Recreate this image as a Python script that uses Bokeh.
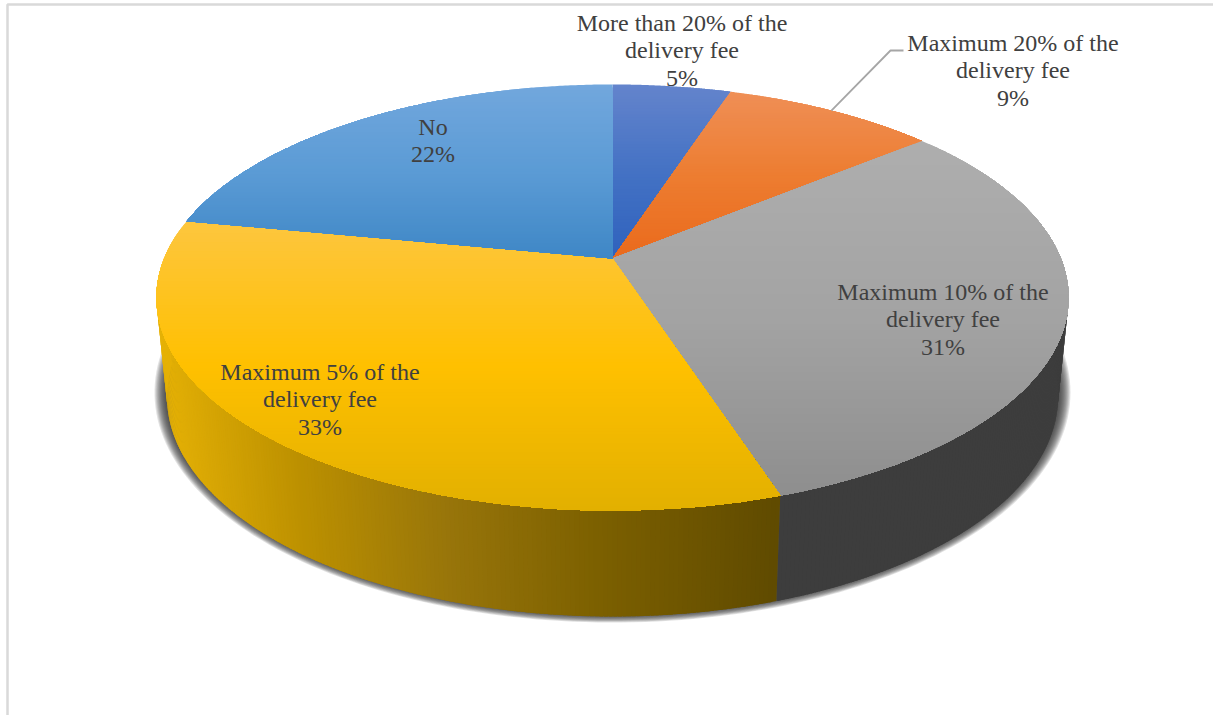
import numpy as np
from bokeh.core.properties import value
from bokeh.embed import file_html
from bokeh.models import ColumnDataSource
from bokeh.plotting import figure
from bokeh.resources import INLINE

# Share of answers, clockwise from twelve o'clock
categories = [
    ["More than 20% of the", "delivery fee"],
    ["Maximum 20% of the", "delivery fee"],
    ["Maximum 10% of the", "delivery fee"],
    ["Maximum 5% of the", "delivery fee"],
    ["No"],
]
shares = [5, 9, 31, 33, 22]

# Lit colour of each slice's top face: upper edge, middle, lower edge
top_colors = [
    ("#6484cc", "#4472c4", "#2f62bd"),
    ("#ef8f56", "#ed7d31", "#ea6a1c"),
    ("#aeaeae", "#a3a3a3", "#8e8e8e"),
    ("#fdc63f", "#ffc000", "#e2b000"),
    ("#72a7dd", "#5b9bd5", "#3f87c6"),
]
# Dark rim colour by screen x for each slice, (x, colour) pairs
rim_colors = [
    [(0, "#27437a"), (1213, "#27437a")],
    [(0, "#8f4a1d"), (1213, "#8f4a1d")],
    [(0, "#404040"), (1213, "#3c3c3c")],
    [(158, "#e6b206"), (300, "#bd9100"), (450, "#98750a"), (600, "#7c6000"), (782, "#5f4a00")],
    [(0, "#37608a"), (1213, "#37608a")],
]
label_anchor = [(681.5, 22), (1012.5, 42), (942.5, 291), (319.5, 371), (432.5, 126)]
leader_elbow = [(890, 50), (903, 50)]
FRAME = "#d9d9d9"
TEXT = "#404040"

# Perspective model of the disc: an apex plus forward tilt
CX = 612.0
TILT = 0.183


def project(theta, y0, a, b):
    u, v = np.sin(theta), np.cos(theta)
    d = 1 + TILT * v
    return CX + a * u / d, y0 - b * v / d


def top_face(theta):
    return project(theta, 258.0, 448.4, 205.9)


def bottom_face(theta):
    return project(theta, 356.0, 438.0, 212.4)


def hex_rgb(c):
    return np.array([int(c[i:i + 2], 16) for i in (1, 3, 5)], dtype=float)


def mix(stops, t):
    xs = [s[0] for s in stops]
    cols = np.array([hex_rgb(s[1]) for s in stops])
    rgb = [np.interp(t, xs, cols[:, k]) for k in range(3)]
    return "#%02x%02x%02x" % tuple(int(round(c)) for c in rgb)


def clip_below(poly, y):
    # Keep the part of a convex polygon that lies at or below screen row y
    out = []
    n = len(poly)
    for i in range(n):
        p, q = poly[i], poly[(i + 1) % n]
        pin, qin = p[1] >= y, q[1] >= y
        if pin:
            out.append(p)
        if pin != qin:
            t = (y - p[1]) / (q[1] - p[1])
            out.append((p[0] + t * (q[0] - p[0]), y))
    return out


bounds = np.cumsum([0] + shares) / sum(shares) * 2 * np.pi

p = figure(width=1213, height=715, x_range=(0, 1213), y_range=(715, 0),
           output_backend="svg", toolbar_location=None, min_border=0,
           background_fill_color="white", border_fill_color="white",
           outline_line_color=None)
p.axis.visible = False
p.grid.visible = False

# Page frame along the left and top
p.line([7, 7, 1213], [715, 4, 4], line_color=FRAME, line_width=2.5)

# Soft cast shadow under the rim: stacked translucent ellipses fade it outward
tt = np.linspace(0, 2 * np.pi, 240)
for sw, sh in zip(np.linspace(458, 446, 12), np.linspace(230, 222, 12)):
    p.patch(CX + sw * np.cos(tt), 392 + sh * np.sin(tt),
            fill_color="#303030", fill_alpha=0.14, line_color=None)

# Rim: upright quads painted in turn, each overlapped by the one after it
xs_rim, ys_rim, cols_rim = [], [], []
for k, stops in enumerate(rim_colors):
    lo, hi = max(bounds[k], np.radians(92)), min(bounds[k + 1], np.radians(268))
    if hi <= lo:
        continue
    steps = np.arange(lo, hi, np.radians(0.5)).tolist() + [hi]
    for a0, a1 in zip(steps[:-1], steps[1:]):
        a2 = min(a1 + np.radians(0.4), hi)
        x0, y0 = top_face(a0)
        x1, y1 = top_face(a2)
        x2, y2 = bottom_face(a2)
        x3, y3 = bottom_face(a0)
        xs_rim.append([x0, x1, x2, x3])
        ys_rim.append([y0, y1, y2, y3])
        cols_rim.append(mix(stops, (x0 + x3) / 2))
p.patches("xs", "ys", source=ColumnDataSource(dict(xs=xs_rim, ys=ys_rim, c=cols_rim)),
          fill_color="c", line_color=None)

# Top face: each slice is painted top-down, every band reaching to the slice's
# lower edge so the next one overlaps it and the shading stays free of seams
xs_top, ys_top, cols_top = [], [], []
for k, stops in enumerate(top_colors):
    arc = np.linspace(bounds[k], bounds[k + 1], 200)
    ax, ay = top_face(arc)
    wedge = [(CX, 258.0)] + list(zip(ax.tolist(), ay.tolist()))
    ymin, ymax = min(q[1] for q in wedge), max(q[1] for q in wedge)
    for e0 in np.arange(ymin, ymax, 3.0):
        band = clip_below(wedge, e0)
        if len(band) < 3:
            continue
        t = (e0 + 1.5 - ymin) / (ymax - ymin)
        xs_top.append([q[0] for q in band])
        ys_top.append([q[1] for q in band])
        cols_top.append(mix([(0, stops[0]), (0.5, stops[1]), (1, stops[2])], t))
p.patches("xs", "ys", source=ColumnDataSource(dict(xs=xs_top, ys=ys_top, c=cols_top)),
          fill_color="c", line_color=None)

# Leader line for the slice whose label sits outside the disc
mid = (bounds[1] + bounds[2]) / 2
lx, ly = top_face(mid)
p.line([float(lx)] + [q[0] for q in leader_elbow], [float(ly)] + [q[1] for q in leader_elbow],
       line_color="#a6a6a6", line_width=1.8)

# Category and percentage labels, one text per line
for lines, share, (ax, ay) in zip(categories, shares, label_anchor):
    rows = lines + [f"{share}%"]
    p.text([ax] * len(rows), [ay + i * 27.6 for i in range(len(rows))], text=rows,
           text_font=value("Liberation Serif"), text_font_size="24px", text_color=TEXT,
           text_align="center", text_baseline="middle")

open("out.html", "w").write(file_html(p, INLINE))
